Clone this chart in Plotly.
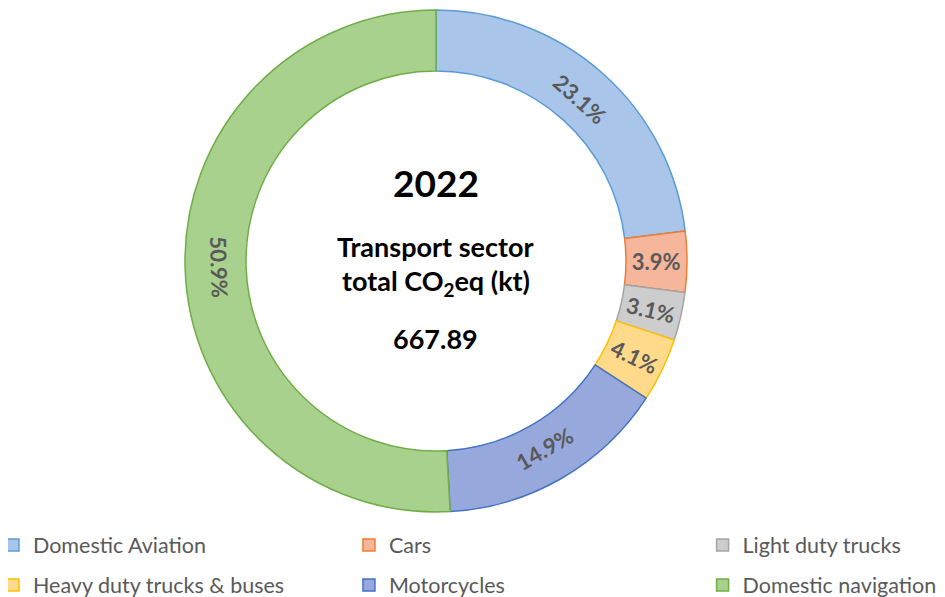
import plotly.graph_objects as go

# Transport sector CO2eq shares, 2022
categories = ["Domestic Aviation", "Cars", "Light duty trucks",
              "Heavy duty trucks & buses", "Motorcycles", "Domestic navigation"]
shares = [23.1, 3.9, 3.1, 4.1, 14.9, 50.9]
total_kt = 667.89
year = "2022"

fill_colors = ["#a9c6ea", "#f5b69c", "#cdcdcd", "#ffda8a", "#97a9dc", "#a9d18e"]
line_colors = ["#5b9bd5", "#ed7d31", "#a5a5a5", "#ffc000", "#4472c4", "#70ad47"]

# big slices get tangential labels, small ones radial (like Excel did)
small = [s < 5 for s in shares]
big_text = ["" if sm else "%{percent:.1%}" for sm in small]
small_text = ["%{percent:.1%}" if sm else "" for sm in small]

label_font = dict(family="Lato", size=22, color="#595959", weight="bold")
dom = dict(x=[0.1873, 0.7185], y=[0.1558, 0.9966])

fig = go.Figure()
fig.add_trace(go.Pie(
    labels=categories, values=shares, sort=False, direction="clockwise",
    hole=0.757, domain=dom, showlegend=False,
    marker=dict(colors=fill_colors, line=dict(color=line_colors, width=1.5)),
    texttemplate=big_text, textposition="inside",
    insidetextorientation="tangential", insidetextfont=label_font,
    hoverinfo="label+percent",
))
fig.add_trace(go.Pie(
    labels=categories, values=shares, sort=False, direction="clockwise",
    hole=0.757, domain=dom, showlegend=False,
    marker=dict(colors=["rgba(0,0,0,0)"] * len(shares), line=dict(width=0)),
    texttemplate=small_text, textposition="inside",
    insidetextorientation="radial", insidetextfont=label_font,
    hoverinfo="skip",
))

# legend: 3 columns x 2 rows, one legend box per entry so the grid matches
# (legend-only pies sit in a tiny corner domain)
col_x = [-0.0159, 0.3608, 0.7350]
row_y = [0.1005, 0.0335]
legend_font = dict(family="Lato", size=21.5, color="#595959")
legend_boxes = {}
for i, (name, fc, lc) in enumerate(zip(categories, fill_colors, line_colors)):
    key = "legend" if i == 0 else f"legend{i + 1}"
    fig.add_trace(go.Pie(
        labels=[name], values=[1], legend=key, showlegend=True,
        domain=dict(x=[0.9995, 1.0], y=[0.9995, 1.0]),
        marker=dict(colors=[fc], line=dict(color=[lc], width=1.5)),
        textinfo="none", hoverinfo="skip",
    ))
    legend_boxes[key] = dict(x=col_x[i % 3], y=row_y[i // 3],
                             xanchor="left", yanchor="middle",
                             font=legend_font, bgcolor="rgba(0,0,0,0)")

cx = (dom["x"][0] + dom["x"][1]) / 2
center_font = dict(family="Lato", color="black", weight="bold")
center_lines = [
    (year, 0.7069, 37),
    ("Transport sector", 0.5997, 27),
    ("total CO<sub>2</sub>eq (kt)", 0.5394, 27),
    (f"{total_kt:.2f}", 0.4472, 27),
]
for txt, yy, sz in center_lines:
    fig.add_annotation(x=cx, y=yy, xref="paper", yref="paper", showarrow=False,
                       xanchor="center", yanchor="middle",
                       text=txt, font=dict(size=sz, **center_font))

fig.update_layout(
    width=945, height=597,
    margin=dict(l=0, r=0, t=0, b=0, autoexpand=False),
    paper_bgcolor="white",
    **legend_boxes,
)

fig.write_html("out.html")
